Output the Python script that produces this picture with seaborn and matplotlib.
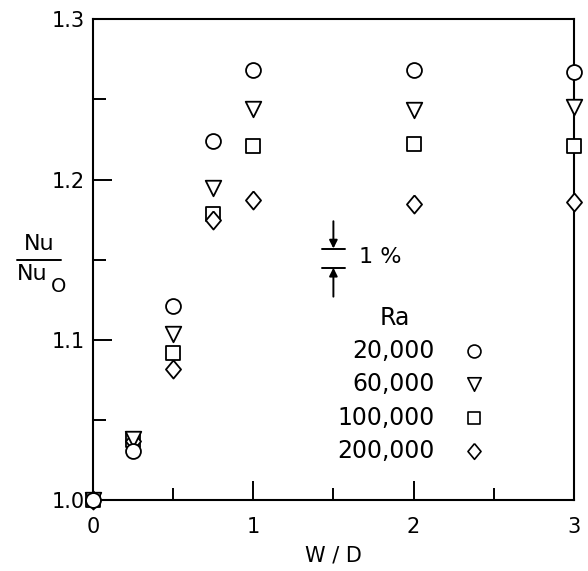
import matplotlib
matplotlib.use("Agg")
import matplotlib.pyplot as plt
import seaborn as sns
import pandas as pd
import numpy as np

# ---- data ----
wd = [0, 0.25, 0.5, 0.75, 1, 2, 3]
ra_labels = ["20,000", "60,000", "100,000", "200,000"]
nu_20k = [1.0, 1.031, 1.121, 1.224, 1.268, 1.268, 1.267]
nu_60k = [1.0, 1.038, 1.104, 1.195, 1.244, 1.243, 1.245]
nu_100k = [1.0, 1.0375, 1.092, 1.1785, 1.221, 1.222, 1.221]
nu_200k = [1.0, 1.037, 1.082, 1.175, 1.187, 1.185, 1.186]
series = [nu_20k, nu_60k, nu_100k, nu_200k]

diamond = [(0, 1.2), (1, 0), (0, -1.2), (-1, 0), (0, 1.2)]
marker_map = {"20,000": "o", "60,000": "v", "100,000": "s", "200,000": diamond}
marker_size = {"20,000": 115, "60,000": 125, "100,000": 95, "200,000": 170}

rows = []
for lab, vals in zip(ra_labels, series):
    for x, y in zip(wd, vals):
        rows.append({"W/D": x, "Nu": y, "Ra": lab})
df = pd.DataFrame(rows)

sns.set_theme(style="white")
plt.rcParams["font.family"] = ["DejaVu Sans"]

fig = plt.figure(figsize=(5.88, 5.71), dpi=100)
ax = fig.add_axes([0.158, 0.1235, 0.818, 0.8432])

# draw order: squares, diamonds, triangles, circles
for lab in ["100,000", "200,000", "60,000", "20,000"]:
    sub = df[df["Ra"] == lab]
    sns.scatterplot(data=sub, x="W/D", y="Nu", ax=ax, marker=marker_map[lab],
                    s=marker_size[lab], facecolor="white", edgecolor="black",
                    linewidth=1.3, clip_on=False, zorder=4, legend=False)

ax.set_xlim(0, 3)
ax.set_ylim(1.0, 1.3)
for sp in ax.spines.values():
    sp.set_visible(True)
    sp.set_color("black")
    sp.set_linewidth(1.5)

ax.set_xticks([0, 1, 2, 3])
ax.set_xticklabels(["0", "1", "2", "3"])
ax.set_xticks([0.5, 1.5, 2.5], minor=True)
ax.set_yticks([1.0, 1.1, 1.2, 1.3])
ax.set_yticklabels(["1.0", "1.1", "1.2", "1.3"])
ax.set_yticks([1.05, 1.15, 1.25], minor=True)
ax.tick_params(which="major", direction="in", length=14, width=1.4, color="black",
               labelsize=15, labelcolor="black")
ax.tick_params(which="minor", direction="in", length=9, width=1.4, color="black")
ax.tick_params(axis="x", which="both", pad=12, bottom=True, top=False)
ax.tick_params(axis="y", which="both", pad=6, left=True, right=False)
ax.grid(False)

ax.set_xlabel("W / D", fontsize=15, labelpad=6, color="black")
ax.set_ylabel("")

# y label drawn as a stacked fraction in figure pixels
W, H = 588.0, 571.0
def fx(px):
    return px / W
def fy(py):
    return 1 - py / H
fig.text(fx(39), fy(244), "Nu", fontsize=16, ha="center", va="center", color="black")
fig.add_artist(plt.Line2D([fx(17), fx(61)], [fy(260), fy(260)], color="black", lw=1.4))
fig.text(fx(32), fy(274), "Nu", fontsize=16, ha="center", va="center", color="black")
fig.text(fx(59), fy(287), "O", fontsize=14, ha="center", va="center", color="black")

# legend drawn manually
ax.text(1.88, 1.114, "Ra", fontsize=17, ha="center", va="center", color="black")
leg_y = [1.0934, 1.0728, 1.0516, 1.031]
for lab, yy in zip(ra_labels, leg_y):
    ax.text(2.13, yy, lab, fontsize=17, ha="right", va="center", color="black")
    ax.scatter([2.38], [yy], marker=marker_map[lab], s=marker_size[lab] * 0.75,
               facecolor="white", edgecolor="black", linewidth=1.2, zorder=4)

# 1% indicator
ax.annotate("", xy=(1.5, 1.157), xytext=(1.5, 1.174),
            arrowprops=dict(arrowstyle="-|>", color="black", lw=1.4,
                            mutation_scale=12, shrinkA=0, shrinkB=0))
ax.annotate("", xy=(1.5, 1.145), xytext=(1.5, 1.127),
            arrowprops=dict(arrowstyle="-|>", color="black", lw=1.4,
                            mutation_scale=12, shrinkA=0, shrinkB=0))
ax.plot([1.43, 1.57], [1.157, 1.157], color="black", lw=1.4)
ax.plot([1.43, 1.57], [1.145, 1.145], color="black", lw=1.4)
ax.text(1.66, 1.1515, "1 %", fontsize=16, ha="left", va="center", color="black")

fig.savefig("out.png", dpi=100)
